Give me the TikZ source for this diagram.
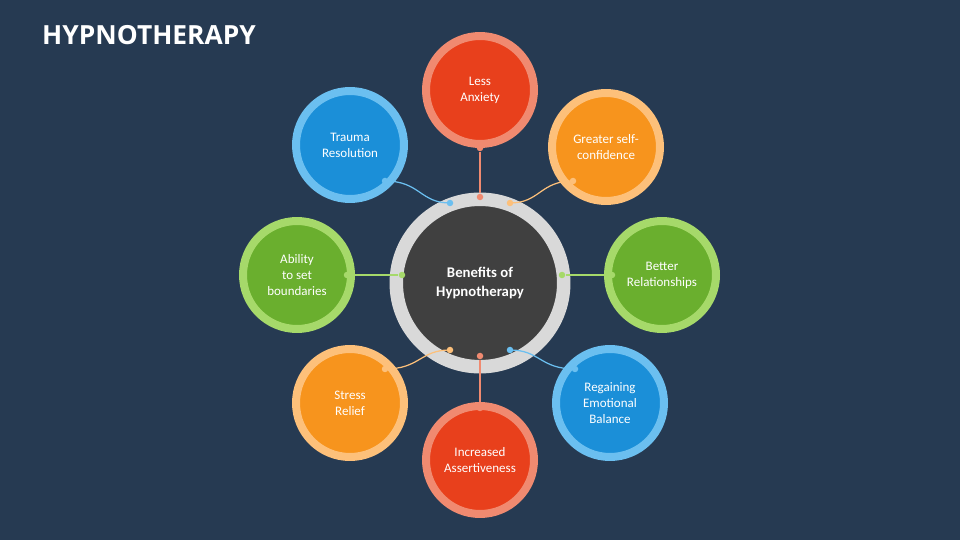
\documentclass[tikz,border=0pt]{standalone}
\usepackage{fontspec}
\setmainfont{Carlito}
\newfontfamily\titlefont{Open Sans}
\definecolor{bg}{HTML}{263A52}
\definecolor{cred}{HTML}{E8401C}\definecolor{lred}{HTML}{F08A70}
\definecolor{cora}{HTML}{F7941D}\definecolor{lora}{HTML}{FDC07A}
\definecolor{cgre}{HTML}{6AAF2E}\definecolor{lgre}{HTML}{A6D96A}
\definecolor{cblu}{HTML}{1B8FD8}\definecolor{lblu}{HTML}{6BBFF0}
\begin{document}
\begin{tikzpicture}[x=0.02cm,y=-0.02cm,
 sat/.style 2 args={circle,fill=#1,draw=#2,line width=0.16cm,minimum size=2.16cm,inner sep=0pt,text=white,align=center,font=\fontsize{7.4}{9.2}\selectfont},
 con/.style={line width=0.7pt},
 dot/.style={circle,fill=#1,inner sep=0pt,minimum size=0.13cm}]
\fill[bg] (0,0) rectangle (960,540);
\useasboundingbox (0,0) rectangle (960,540);
\node[anchor=west,text=white,font=\titlefont\bfseries\fontsize{15}{18}\selectfont] (title) at (36,35) {HYPNOTHERAPY};
\node[circle,fill=black!75,draw=black!15,line width=0.27cm,minimum size=3.35cm,text=white,align=center,font=\bfseries\fontsize{8.4}{10.5}\selectfont] (c) at (480,283) {Benefits of\\Hypnotherapy};
\node[sat={cred}{lred}] (a) at (480,90) {Less\\Anxiety};
\node[sat={cora}{lora}] (b) at (606,147) {Greater self-\\confidence};
\node[sat={cgre}{lgre}] (r) at (662,275) {Better\\Relationships};
\node[sat={cblu}{lblu}] (e) at (610,403) {Regaining\\Emotional\\Balance};
\node[sat={cred}{lred}] (s) at (480,460) {Increased\\Assertiveness};
\node[sat={cora}{lora}] (st) at (350,403) {Stress\\Relief};
\node[sat={cgre}{lgre}] (bo) at (297,275) {Ability\\to set\\boundaries};
\node[sat={cblu}{lblu}] (t) at (350,145) {Trauma\\Resolution};
% connector endpoints
\node[dot=lred] (a1) at (480,148) {}; \node[dot=lred] (a2) at (480,197) {};
\node[dot=lred] (s1) at (480,408) {}; \node[dot=lred] (s2) at (480,356) {};
\node[dot=lgre] (r1) at (612,275) {}; \node[dot=lgre] (r2) at (562,275) {};
\node[dot=lgre] (bo1) at (347,275) {}; \node[dot=lgre] (bo2) at (402,275) {};
\node[dot=lblu] (t1) at (385,181) {}; \node[dot=lblu] (t2) at (450,203) {};
\node[dot=lora] (b1) at (573,181) {}; \node[dot=lora] (b2) at (510,203) {};
\node[dot=lora] (st1) at (385,369) {}; \node[dot=lora] (st2) at (450,350) {};
\node[dot=lblu] (e1) at (575,369) {}; \node[dot=lblu] (e2) at (510,350) {};
\draw[con,lred] (a1) -- (a2); \draw[con,lred] (s1) -- (s2);
\draw[con,lgre] (r1) -- (r2); \draw[con,lgre] (bo1) -- (bo2);
\draw[con,lblu] (t1.center) .. controls (420,181) and (420,203) .. (t2.center);
\draw[con,lora] (b1.center) .. controls (540,181) and (540,203) .. (b2.center);
\draw[con,lora] (st1.center) .. controls (420,369) and (420,350) .. (st2.center);
\draw[con,lblu] (e1.center) .. controls (540,369) and (540,350) .. (e2.center);
\end{tikzpicture}
\end{document}
